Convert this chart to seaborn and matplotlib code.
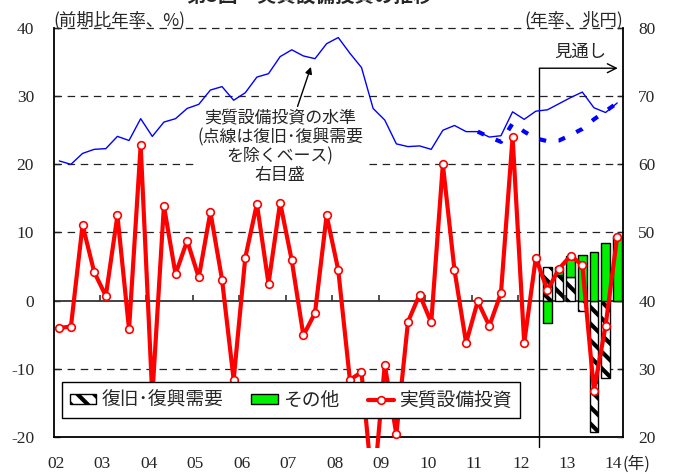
import numpy as np
import pandas as pd
import matplotlib
matplotlib.use("Agg")
import matplotlib.pyplot as plt
import seaborn as sns
from matplotlib.patches import Patch, Rectangle
from matplotlib.lines import Line2D

# ---------------- data ----------------
years = ["02", "03", "04", "05", "06", "07", "08", "09", "10", "11", "12", "13", "14"]
quarters = [f"20{y}Q{q}" for y in years for q in range(1, 5)][:49]

# real capex, q/q annualised growth (%), left axis
growth = [-4.0, -3.8, 11.1, 4.2, 0.7, 12.5, -4.2, 22.8, -14.0, 13.9,
          3.9, 8.8, 3.4, 13.0, 3.1, -11.6, 6.3, 14.2, 2.5, 14.4,
          5.9, -5.1, -1.8, 12.5, 4.5, -11.6, -10.5, -28.5, -9.4, -19.6,
          -3.1, 0.9, -3.2, 20.0, 4.5, -6.2, -0.1, -3.7, 1.1, 24.0,
          -6.2, 6.3, 1.5, 4.7, 6.6, 5.2, -13.2, -3.7, 9.4]

# real capex level (annualised, trillion yen), right axis
level = [60.5, 60.0, 61.6, 62.2, 62.3, 64.1, 63.5, 66.7, 64.1, 66.2,
         66.7, 68.2, 68.8, 70.9, 71.4, 69.4, 70.5, 72.8, 73.3, 75.8,
         76.8, 75.9, 75.5, 77.7, 78.6, 76.3, 74.2, 68.2, 66.5, 63.0,
         62.6, 62.7, 62.2, 65.0, 65.7, 64.8, 64.8, 64.0, 64.2, 67.7,
         66.6, 67.8, 68.0, 68.9, 69.8, 70.6, 68.3, 67.6, 69.0]

# level excluding reconstruction demand (dotted), from 2011Q1
level_ex_start = 36
level_ex = [64.8, 64.0, 63.3, 66.0, 64.8, 63.8, 63.4, 63.5, 64.3, 65.2,
            66.6, 67.8, 69.0]

# contributions in the outlook period (from 2012Q3)
bar_start = 42
recon = [4.9, 3.8, 3.4, -1.5, -19.3, -11.3, 0.0]
other = [-3.3, 1.2, 3.2, 6.7, 7.2, 8.4, 9.5]

# ---------------- style ----------------
sns.set_style("white")
plt.rcParams["font.family"] = ["Noto Sans CJK JP", "DejaVu Sans"]
plt.rcParams["hatch.linewidth"] = 3.0
SERIF = ["Liberation Serif", "DejaVu Serif"]
RED = "#FF0000"
BLUE = "#0000FF"
GREEN = "#00F000"

W, H = 676, 474
fig = plt.figure(figsize=(W / 100, H / 100), dpi=100)
x0, x1, y0, y1 = 53.5, 623, 28, 437
ax = fig.add_axes([x0 / W, 1 - y1 / H, (x1 - x0) / W, (y1 - y0) / H])
ax2 = ax.twinx()

idx = np.arange(len(growth))
ax.set_xlim(-0.5, 48.5)
ax.set_ylim(-20, 40)
ax2.set_ylim(20, 80)

# grid lines (dashed) + zero line
for v in [-10, 10, 20, 30, 40]:
    ax.axhline(v, color="#222222", lw=0.9, ls=(0, (6, 4.5)), zorder=1, clip_on=False)
ax.axhline(0, color="#333333", lw=1.3, zorder=2)
year_pos = -0.5 + 4 * np.arange(len(years))
ax.vlines(year_pos[1:12], 0, 0.8, color="#333333", lw=1.2, zorder=2)

# bars
bx = idx[bar_start:bar_start + len(recon)]
recon_a = np.array(recon)
other_a = np.array(other)
other_bottom = np.where(np.sign(other_a) == np.sign(recon_a), recon_a, 0.0)
ax.bar(bx, recon_a, width=0.75, facecolor="white", edgecolor="black",
       hatch="\\\\", lw=1.0, zorder=3)
ax.bar(bx, other_a, bottom=other_bottom, width=0.75, facecolor=GREEN,
       edgecolor="black", lw=1.0, zorder=3)

# red line
df = pd.DataFrame({"i": idx, "growth": growth, "level": level})
sns.lineplot(data=df, x="i", y="growth", ax=ax, color=RED, lw=3.0,
             marker="o", markersize=5.5, markerfacecolor="white",
             markeredgecolor=RED, markeredgewidth=1.2, zorder=5)
red_line = ax.lines[-1]
clip_rect = Rectangle((0, -0.026), 1, 1.026, transform=ax.transAxes,
                      visible=False)
ax.add_patch(clip_rect)
red_line.set_clip_path(clip_rect)

# blue lines on right axis
sns.lineplot(data=df, x="i", y="level", ax=ax2, color=BLUE, lw=1.0, zorder=3)
df_ex = pd.DataFrame({"i": idx[level_ex_start:level_ex_start + len(level_ex)],
                      "level": level_ex})
sns.lineplot(data=df_ex, x="i", y="level", ax=ax2, color=BLUE, lw=3.0,
             ls=(0, (1.7, 3.0)), zorder=3)

# forecast marker
fc_x = 41.3
ax.plot([fc_x, fc_x], [-21.4, 34.1], color="black", lw=1.0, clip_on=False, zorder=4)
ax.annotate("", xy=(48.05, 34.1), xytext=(fc_x, 34.1),
            arrowprops=dict(arrowstyle="->", lw=1.0, color="black",
                            mutation_scale=16, shrinkA=0, shrinkB=0))
ax.text(44.8, 36.5, "見通し", ha="center", va="center", fontsize=12.5)

# annotation
ax.text(19.0, 22.6, "実質設備投資の水準\n(点線は復旧･復興需要\nを除くベース)\n右目盛",
        ha="center", va="center", fontsize=12.2, linespacing=1.05, zorder=3,
        bbox=dict(facecolor="white", edgecolor="none", pad=1.5))
ax.annotate("", xy=(21.65, 34.3), xytext=(20.5, 28.5),
            arrowprops=dict(arrowstyle="-|>", lw=1.0, color="black",
                            mutation_scale=10, shrinkA=0, shrinkB=0))

# axes styling
for a in (ax, ax2):
    for s in a.spines.values():
        s.set_visible(False)
ax.spines["left"].set_visible(True)
ax.spines["bottom"].set_visible(True)
ax2.spines["right"].set_visible(True)
for s in [ax.spines["left"], ax.spines["bottom"], ax2.spines["right"]]:
    s.set_color("black")
    s.set_linewidth(1.3)

ax.set_yticks([-20, -10, 0, 10, 20, 30, 40])
ax.set_yticklabels(["-20", "-10", "0", "10", "20", "30", "40"], family=SERIF, fontsize=12.5)
ax2.set_yticks([20, 30, 40, 50, 60, 70, 80])
ax2.set_yticklabels(["20", "30", "40", "50", "60", "70", "80"], family=SERIF, fontsize=12.5)
ax.tick_params(axis="y", direction="in", length=4.5, width=1.0, pad=14, left=True)
ax2.tick_params(axis="y", direction="in", length=4.5, width=1.0, pad=11, right=True)
ax.set_xticks(year_pos + 0.2)
ax.set_xticklabels(years, family=SERIF, fontsize=12.5)
ax.tick_params(axis="x", length=0, pad=14)
ax.set_xlabel("")
ax.set_ylabel("")
ax2.set_ylabel("")

fig.text(623 / W, 1 - 464 / H, "(年)", ha="left", va="center", fontsize=12)
ax.text(0.0, 1.02, "(前期比年率、%)", transform=ax.transAxes, ha="left",
        va="center", fontsize=12.5)
ax.text(1.0, 1.02, "(年率、兆円)", transform=ax.transAxes, ha="right",
        va="center", fontsize=12.5)
fig.text(310 / W, 1.008, "第3図　実質設備投資の推移", ha="center", va="center",
         fontsize=14, fontweight="bold")

# legend
handles = [Patch(facecolor="white", edgecolor="black", hatch="\\\\", lw=1.0),
           Patch(facecolor=GREEN, edgecolor="black", lw=1.0),
           Line2D([], [], color=RED, lw=3.0, marker="o", markersize=5.5,
                  markerfacecolor="white", markeredgecolor=RED, markeredgewidth=1.2)]
labels = ["復旧･復興需要", "その他", "実質設備投資"]
leg = ax2.legend(handles, labels, loc="lower left", bbox_to_anchor=(0.015, 0.046),
                 ncol=3, fontsize=13.5, frameon=True, fancybox=False,
                 framealpha=1, edgecolor="black", borderaxespad=0,
                 handlelength=1.4, handleheight=0.5, handletextpad=0.3,
                 columnspacing=1.5, borderpad=0.4)
leg.get_frame().set_linewidth(1.0)
leg.set_zorder(10)

fig.savefig("out.png", dpi=100)
